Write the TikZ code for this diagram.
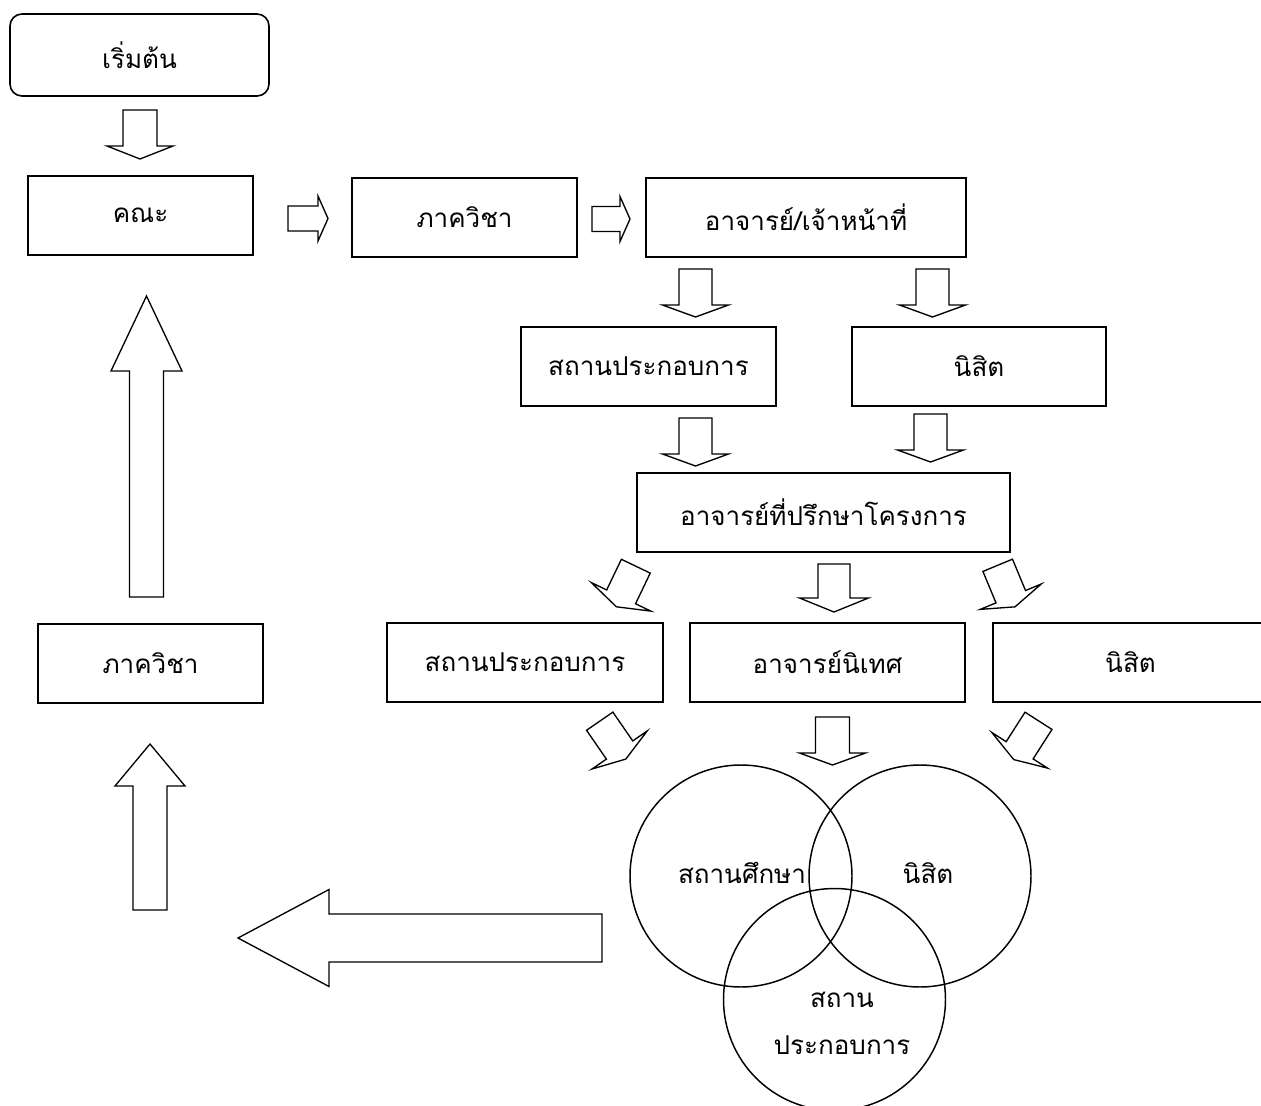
\documentclass[tikz,border=0pt]{standalone}
\usepackage{fontspec}
\newfontfamily\thaifont[Script=Thai]{Loma}
\begin{document}
\begin{tikzpicture}[x=0.75pt,y=-0.75pt,
  every node/.style={font=\thaifont\fontsize{19.5pt}{35pt}\selectfont, inner sep=0pt},
  box/.style={draw, line width=1.2pt, inner sep=0pt},
  ring/.style={draw, circle, line width=1.1pt, minimum size=222*0.75pt},
  arr/.style={draw, line width=1pt, fill=white, line join=miter},
  pics/barrow/.style n args={4}{code={
    \draw[arr] (0,-#2/2) -- (#1,-#2/2) -- (#1,-#3/2) -- ({#1+#4},0) -- (#1,#3/2) -- (#1,#2/2) -- (0,#2/2) -- cycle;}}
]
\path[use as bounding box, clip] (0,0) rectangle (1261,1106);
\fill[white] (0,0) rectangle (1261,1106);

% boxes
\node[box, rounded corners=9pt, minimum width=259*0.75pt, minimum height=82*0.75pt] (start) at (139.5,55) {เริ่มต้น};
\node[box, minimum width=225*0.75pt, minimum height=79*0.75pt] (fac) at (140.5,215.5) {คณะ};
\node[box, minimum width=225*0.75pt, minimum height=79*0.75pt] (dept) at (464.5,217.5) {ภาควิชา};
\node[box, minimum width=320*0.75pt, minimum height=79*0.75pt] (staff) at (806,217.5) {อาจารย์/เจ้าหน้าที่};
\node[box, minimum width=255*0.75pt, minimum height=79*0.75pt] (est1) at (648.5,366.5) {สถานประกอบการ};
\node[box, minimum width=254*0.75pt, minimum height=79*0.75pt] (stu1) at (979,366.5) {นิสิต};
\node[box, minimum width=373*0.75pt, minimum height=79*0.75pt] (adv) at (823.5,512.5) {อาจารย์ที่ปรึกษาโครงการ};
\node[box, minimum width=276*0.75pt, minimum height=79*0.75pt] (est2) at (525,662.5) {สถานประกอบการ};
\node[box, minimum width=275*0.75pt, minimum height=79*0.75pt] (sup) at (827.5,662.5) {อาจารย์นิเทศ};
\node[box, minimum width=275*0.75pt, minimum height=79*0.75pt] (stu2) at (1130.5,662.5) {นิสิต};
\node[box, minimum width=225*0.75pt, minimum height=79*0.75pt] (dept2) at (150.5,663.5) {ภาควิชา};

% circles
\node[ring] (c1) at (741,876) {};
\node[ring] (c2) at (920,876) {};
\node[ring] (c3) at (834.5,999.5) {};
\node (t1) at (742,873) {สถานศึกษา};
\node (t2) at (928,873) {นิสิต};
\node[align=center] (t3) at (842,1023.5) {สถาน\\ประกอบการ};

% block arrows
\pic[rotate=-90] at (140,110) {barrow={36}{34}{66}{13}};
\pic at (288,218.5) {barrow={30}{25}{45}{10}};
\pic at (592,219) {barrow={28}{25}{45}{10}};
\pic[rotate=-90] at (695.5,269) {barrow={36}{33}{66}{12}};
\pic[rotate=-90] at (932.5,269) {barrow={36}{33}{66}{12}};
\pic[rotate=-90] at (695.5,418) {barrow={36}{33}{66}{12}};
\pic[rotate=-90] at (930.5,414) {barrow={36}{33}{66}{12}};
\pic[rotate=-115.6] at (635.8,566.2) {barrow={34}{32}{66}{11}};
\pic[rotate=-90] at (834,564) {barrow={34}{32}{69}{14}};
\pic[rotate=-67.4] at (997.7,565.3) {barrow={34}{32}{66}{11}};
\pic[rotate=-55.4] at (599.7,721.2) {barrow={35}{32}{67}{11}};
\pic[rotate=-90] at (832.5,717) {barrow={36}{34}{66}{12}};
\pic[rotate=-122.6] at (1038.5,720.8) {barrow={35}{32}{66}{11}};
\pic[rotate=90] at (146.5,597) {barrow={226}{34}{71}{75}};
\pic[rotate=90] at (150,910) {barrow={124}{34}{70}{42}};
\pic[rotate=180] at (602,938) {barrow={273}{48}{97}{91}};
\end{tikzpicture}
\end{document}
